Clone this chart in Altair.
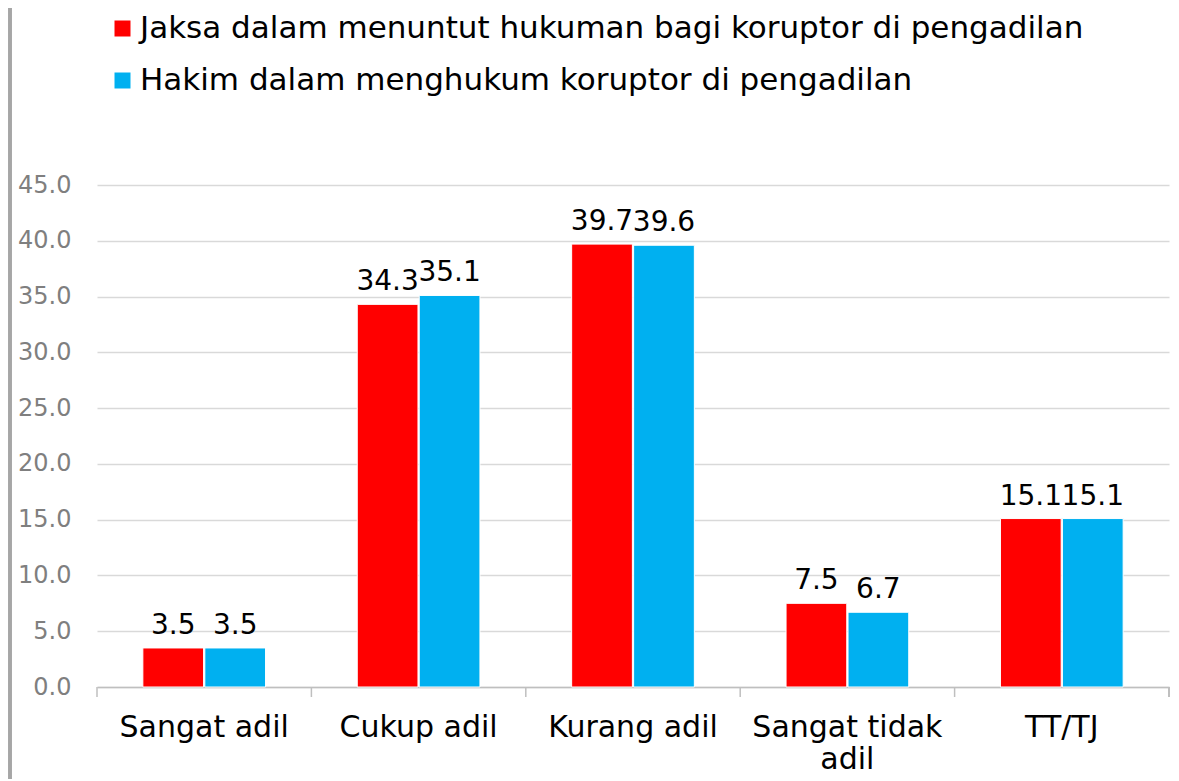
import altair as alt
import pandas as pd

categories = ["Sangat adil", "Cukup adil", "Kurang adil", "Sangat tidak adil", "TT/TJ"]
series = ["Jaksa dalam menuntut hukuman bagi koruptor di pengadilan",
          "Hakim dalam menghukum koruptor di pengadilan"]
jaksa = [3.5, 34.3, 39.7, 7.5, 15.1]
hakim = [3.5, 35.1, 39.6, 6.7, 15.1]
y_ticks = [0, 5, 10, 15, 20, 25, 30, 35, 40, 45]
colors = ["#ff0000", "#00b0f0"]

rows = []
for c, a, b in zip(categories, jaksa, hakim):
    rows.append({"cat": c, "series": series[0], "value": a})
    rows.append({"cat": c, "series": series[1], "value": b})
df = pd.DataFrame(rows)
ticks_df = pd.DataFrame({"cat": categories})

FONT = "DejaVu Sans"
W, H = 1072, 502

x_enc = alt.X("cat:N", sort=categories,
              scale=alt.Scale(paddingInner=0, paddingOuter=0),
              axis=alt.Axis(title=None, ticks=False, domain=True, domainColor="#bfbfbf",
                            domainWidth=1.5, labelAngle=0, labelFontSize=30, labelColor="#000000",
                            labelFont=FONT, labelPadding=25, labelLineHeight=32, labelLimit=400,
                            labelExpr="datum.value == 'Sangat tidak adil' ? ['Sangat tidak', 'adil'] : datum.value"))
xo = alt.XOffset("series:N", sort=series,
                 scale=alt.Scale(paddingInner=0.02, paddingOuter=0.74))
y_enc = alt.Y("value:Q", scale=alt.Scale(domain=[0, 45]),
              axis=alt.Axis(title=None, values=y_ticks, format=".1f", domain=False, ticks=False,
                            labelFontSize=24, labelColor="#7f7f7f", labelFont=FONT,
                            labelPadding=26, gridColor="#d9d9d9", gridWidth=1.5))

bars = alt.Chart(df).mark_bar(stroke="white", strokeWidth=1).encode(
    x=x_enc, xOffset=xo, y=y_enc,
    color=alt.Color("series:N", sort=series,
                    scale=alt.Scale(domain=series, range=colors),
                    legend=alt.Legend(title=None, orient="none", legendX=10, legendY=-172,
                                      symbolType="square", symbolSize=256, symbolStrokeWidth=0,
                                      labelFontSize=31, labelFont=FONT, labelColor="#000000",
                                      rowPadding=20, labelOffset=2, padding=0, labelLimit=1200))
)

labels = alt.Chart(df).mark_text(baseline="bottom", dy=-8, fontSize=28, font=FONT, color="#000000").encode(
    x=alt.X("cat:N", sort=categories), xOffset=alt.XOffset("series:N", sort=series),
    y="value:Q", text=alt.Text("value:Q", format=".1f")
)

tick_rules = alt.Chart(ticks_df).mark_rule(color="#bfbfbf", strokeWidth=1.5).encode(
    x=alt.X("cat:N", sort=categories, bandPosition=0), y=alt.value(H), y2=alt.value(H + 10)
)
end_tick = alt.Chart(ticks_df).mark_rule(color="#bfbfbf", strokeWidth=1.5).encode(
    x=alt.value(W), y=alt.value(H), y2=alt.value(H + 10)
)
border = alt.Chart(ticks_df).mark_rule(color="#a6a6a6", strokeWidth=3, clip=False).encode(
    x=alt.value(-87), y=alt.value(-177), y2=alt.value(H + 92)
)

chart = alt.layer(bars, labels, tick_rules, end_tick, border).properties(
    width=W, height=H,
    autosize=alt.AutoSizeParams(type="none"),
    padding={"left": 89, "top": 177, "right": 2, "bottom": 92},
).configure_view(stroke=None).configure_scale(bandPaddingInner=0)

chart.save("out.html", embed_options={"renderer": "svg", "actions": False})
